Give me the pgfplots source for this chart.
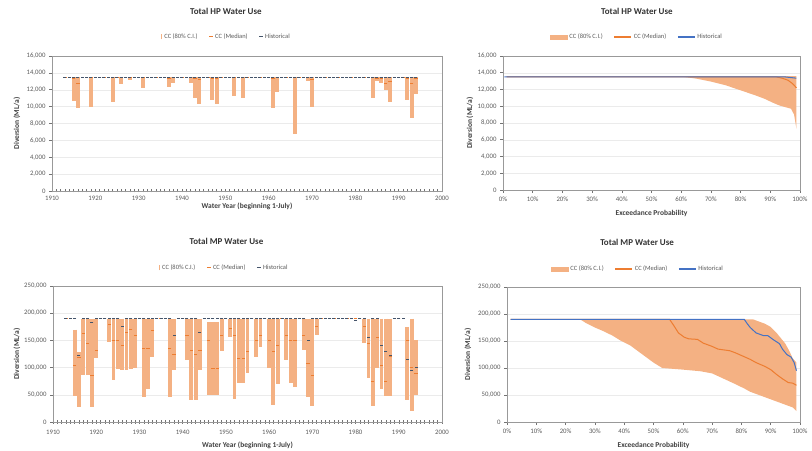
\documentclass[border=0pt]{standalone}
\usepackage{fontspec}
\setmainfont{Carlito}
\usepackage{pgfplots}
\pgfplotsset{compat=1.18}
\usepackage{pgfplotstable}
\definecolor{cBand}{HTML}{F4B183}
\definecolor{cMed}{HTML}{ED7D31}
\definecolor{cHist}{HTML}{4472C4}
\definecolor{cHistDk}{HTML}{44546A}
\definecolor{cTxt}{HTML}{595959}

\pgfplotstableread{
year hi lo med hist
1913 13500 13500 13500 13500
1914 13500 13500 13500 13500
1915 13500 10700 13300 13500
1916 13500 9800 12700 13500
1917 13500 13500 13500 13500
1918 13500 13500 13500 13500
1919 13500 9900 13500 13500
1920 13500 13500 13500 13500
1921 13500 13500 13500 13500
1922 13500 13500 13500 13500
1923 13500 13500 13500 13500
1924 13500 10500 13500 13500
1925 13500 13500 13500 13500
1926 13500 12700 13500 13500
1927 13500 13500 13500 13500
1928 13500 13200 13500 13500
1929 13500 13500 13500 13500
1930 13500 13500 13500 13500
1931 13500 12200 13500 13500
1932 13500 13500 13500 13500
1933 13500 13500 13500 13500
1934 13500 13500 13500 13500
1935 13500 13500 13500 13500
1936 13500 13500 13500 13500
1937 13500 12300 13400 13500
1938 13500 12800 13500 13500
1939 13500 13500 13500 13500
1940 13500 13500 13500 13500
1941 13500 13500 13500 13500
1942 13500 12800 13500 13500
1943 13500 11000 13400 13500
1944 13500 10300 13200 13500
1945 13500 13500 13500 13500
1946 13500 13500 13500 13500
1947 13500 10800 13400 13500
1948 13500 10300 13300 13500
1949 13500 13500 13500 13500
1950 13500 13500 13500 13500
1951 13500 13500 13500 13500
1952 13500 11300 13500 13500
1953 13500 13500 13500 13500
1954 13500 11000 13500 13500
1955 13500 13500 13500 13500
1956 13500 13500 13500 13500
1957 13500 13500 13500 13500
1958 13500 13500 13500 13500
1959 13500 13500 13500 13500
1960 13500 13500 13500 13500
1961 13500 9800 13300 13500
1962 13500 11700 13500 13500
1963 13500 13500 13500 13500
1964 13500 13500 13500 13500
1965 13500 13500 13500 13500
1966 13500 6800 13500 13500
1967 13500 13500 13500 13500
1968 13500 13500 13500 13500
1969 13500 13000 13500 13500
1970 13500 9900 13200 13500
1971 13500 13500 13500 13500
1972 13500 13500 13500 13500
1973 13500 13500 13500 13500
1974 13500 13500 13500 13500
1975 13500 13500 13500 13500
1976 13500 13500 13500 13500
1977 13500 13500 13500 13500
1978 13500 13500 13500 13500
1979 13500 13500 13500 13500
1980 13500 13500 13500 13500
1981 13500 13500 13500 13500
1982 13500 13500 13500 13500
1983 13500 13500 13500 13500
1984 13500 11000 13500 13500
1985 13500 13000 13400 13500
1986 13500 12800 13300 13500
1987 13500 12000 12700 13500
1988 13500 10500 13000 13500
1989 13500 13500 13500 13500
1990 13500 13500 13500 13500
1991 13500 13500 13500 13500
1992 13500 10800 13300 13500
1993 13500 8700 12800 13500
1994 13500 11500 13400 13500
}\hpdata

\pgfplotstableread{
year hi lo med hist
1913 190000 190000 190000 190000
1914 190000 190000 190000 190000
1915 170000 47000 105000 190000
1916 128000 28000 118000 122000
1917 190000 86000 163000 190000
1918 190000 86000 145000 190000
1919 190000 28000 86000 184000
1920 190000 117000 132000 190000
1921 190000 190000 190000 190000
1922 190000 190000 190000 190000
1923 190000 147000 180000 190000
1924 190000 77000 150000 190000
1925 190000 98000 150000 190000
1926 190000 95000 140000 175000
1927 190000 95000 165000 190000
1928 190000 98000 170000 190000
1929 190000 100000 160000 190000
1930 190000 190000 190000 190000
1931 190000 46000 135000 190000
1932 190000 60000 135000 190000
1933 190000 120000 169000 190000
1934 190000 190000 190000 190000
1935 190000 190000 190000 190000
1936 190000 190000 190000 190000
1937 190000 46000 135000 190000
1938 190000 95000 125000 160000
1939 190000 190000 190000 190000
1940 190000 190000 190000 190000
1941 190000 114000 160000 190000
1942 190000 40000 132000 190000
1943 190000 40000 125000 190000
1944 190000 95000 132000 165000
1945 190000 190000 190000 190000
1946 184000 50000 150000 190000
1947 184000 50000 98000 190000
1948 184000 50000 98000 190000
1949 190000 130000 160000 190000
1950 190000 190000 190000 190000
1951 190000 157000 172000 190000
1952 190000 43000 160000 190000
1953 190000 71000 117000 190000
1954 190000 71000 117000 190000
1955 190000 90000 130000 190000
1956 190000 190000 190000 190000
1957 190000 120000 150000 190000
1958 190000 138000 160000 190000
1959 190000 190000 190000 190000
1960 190000 100000 150000 190000
1961 190000 31000 129000 190000
1962 190000 70000 140000 190000
1963 190000 190000 190000 190000
1964 190000 114000 160000 190000
1965 190000 71000 150000 190000
1966 190000 65000 150000 190000
1967 190000 190000 190000 190000
1968 190000 132000 160000 190000
1969 190000 46000 108000 150000
1970 190000 30000 85000 190000
1971 190000 160000 175000 190000
1972 190000 190000 190000 190000
1973 190000 190000 190000 190000
1974 190000 190000 190000 190000
1975 190000 190000 190000 190000
1976 190000 190000 190000 190000
1977 190000 190000 190000 190000
1978 190000 190000 190000 190000
1979 190000 190000 190000 190000
1980 190000 190000 190000 186000
1981 190000 190000 190000 190000
1982 190000 145000 175000 190000
1983 190000 80000 145000 155000
1984 190000 30000 75000 190000
1985 190000 100000 155000 190000
1986 190000 60000 105000 140000
1987 190000 48000 75000 130000
1988 190000 48000 120000 122000
1989 190000 190000 190000 190000
1990 190000 190000 190000 190000
1991 190000 190000 190000 190000
1992 175000 40000 150000 115000
1993 190000 20000 100000 95000
1994 150000 50000 90000 100000
}\mpdata

\pgfplotsset{
  base/.style={
    scale only axis,
    anchor=south west,
    axis line style={black!40, line width=0.6bp},
    tick style={black!55, line width=0.5bp},
    major tick length=3bp,
    minor tick length=3bp,
    tick pos=left,
    tick label style={font=\fontsize{6.8}{7}\selectfont, text=cTxt},
    label style={font=\fontsize{7.5}{8}\selectfont\bfseries, text=black!75},
    title style={font=\fontsize{9}{10}\selectfont\bfseries, text=black!80, anchor=center},
    /pgf/number format/assume math mode=true,
    /pgf/number format/fixed,
    /pgf/number format/1000 sep={,},
    scaled y ticks=false,
    ymajorgrids, grid style={black!8, line width=0.4bp},
    legend style={draw=none, fill=none, font=\fontsize{6.5}{7}\selectfont, text=cTxt,
      legend columns=-1, anchor=center,
      /tikz/every even column/.append style={column sep=9bp}},
    legend cell align=left,
    xlabel style={at={(axis description cs:0.5,0)}, anchor=center},
  },
  leftstyle/.style={
    xmin=1910, xmax=2000, xtick distance=10, minor x tick num=9,
    xtick align=center, ytick align=outside,
    xticklabel style={/pgf/number format/1000 sep={}},
    xlabel={Water Year (beginning 1-July)},
    ylabel={Diversion (ML/a)},
  },
  rightstyle/.style={
    xmin=0, xmax=100, xtick={0,10,20,30,40,50,60,70,80,90,100},
    xticklabels={0\%,10\%,20\%,30\%,40\%,50\%,60\%,70\%,80\%,90\%,100\%},
    tick align=outside,
    xlabel={Exceedance Probability},
    ylabel={Diversion (ML/a)},
  },
  cibar/.style={forget plot, draw=none, mark=none,
    error bars/.cd, y dir=minus, y explicit, error mark=none,
    error bar style={line width=3.9bp, cBand}},
  medmark/.style={forget plot, only marks, mark=-, mark size=1.6bp,
    mark options={cMed, line width=0.7bp}},
  histmark/.style={forget plot, only marks, mark=-, mark size=1.5bp,
    mark options={cHistDk, line width=0.7bp}},
}

\newcommand{\leftlegend}{%
  \addlegendimage{legend image code/.code={\draw[cBand,line width=1.4bp] (0bp,-2.5bp)--(0bp,2.5bp);}}
  \addlegendentry{CC (80\% C.I.)}
  \addlegendimage{legend image code/.code={\draw[cMed,line width=1bp] (-1.8bp,0)--(1.8bp,0);}}
  \addlegendentry{CC (Median)}
  \addlegendimage{legend image code/.code={\draw[cHistDk,line width=1bp] (-1.8bp,0)--(1.8bp,0);}}
  \addlegendentry{Historical}
}
\newcommand{\rightlegend}{%
  \addlegendimage{legend image code/.code={\fill[cBand] (0bp,-2bp) rectangle (17bp,2bp);}}
  \addlegendentry{CC (80\% C.I.)}
  \addlegendimage{legend image code/.code={\draw[cMed,line width=1.1bp] (0bp,0)--(17bp,0);}}
  \addlegendentry{CC (Median)}
  \addlegendimage{legend image code/.code={\draw[cHist,line width=1.1bp] (0bp,0)--(17bp,0);}}
  \addlegendentry{Historical}
}

\begin{document}
\begin{tikzpicture}
\path[use as bounding box] (0bp,0bp) rectangle (812bp,451bp);

% ---------- Top left ----------
\begin{axis}[base, leftstyle, at={(52bp,260bp)}, width=390bp, height=135bp,
  ymin=0, ymax=16000, ytick distance=2000,
  title={Total HP Water Use}, title style={at={(0.446,1)}, yshift=39bp},
  legend style={at={(0.447,1)}, yshift=19bp},
  xlabel style={yshift=-15bp},
  ylabel style={at={(axis description cs:-0.0897,0.5)}, anchor=center}]
\leftlegend
\addplot[cibar] table[x=year, y=hi, y error minus expr=\thisrow{hi}-\thisrow{lo}] {\hpdata};
\addplot[medmark] table[x=year, y=med] {\hpdata};
\addplot[histmark] table[x=year, y=hist] {\hpdata};
\end{axis}

% ---------- Top right ----------
\begin{axis}[base, rightstyle, at={(503bp,261bp)}, width=297bp, height=134bp,
  ymin=0, ymax=16000, ytick distance=2000,
  title={Total HP Water Use}, title style={at={(0.451,1)}, yshift=39bp},
  legend style={at={(0.451,1)}, yshift=19bp},
  xlabel style={yshift=-23bp},
  ylabel style={at={(axis description cs:-0.111,0.5)}, anchor=center}]
\rightlegend
\addplot[fill=cBand, draw=none, forget plot] coordinates {
 (1.2,13600) (98.8,13600)
 (98.8,7300) (98,9000) (97,9700) (95,9900) (93,10100) (91,10400) (88,10900)
 (85,11300) (80,11900) (75,12500) (70,12950) (65,13300) (61,13500) (1.2,13500)};
\addplot[cMed, line width=1bp, forget plot] coordinates {
 (1.2,13500) (92,13500) (94,13350) (96,13100) (97.5,12700) (98.8,12200)};
\addplot[cHist, line width=1bp, forget plot] coordinates {
 (0.5,13500) (95,13500) (98.8,13350)};
\end{axis}

% ---------- Bottom left ----------
\begin{axis}[base, leftstyle, at={(53bp,29bp)}, width=389bp, height=136bp,
  ymin=0, ymax=250000, ytick distance=50000,
  title={Total MP Water Use}, title style={at={(0.446,1)}, yshift=39bp},
  legend style={at={(0.44,1)}, yshift=18bp},
  xticklabel style={yshift=-3bp},
  xlabel style={yshift=-23bp},
  ylabel style={at={(axis description cs:-0.0925,0.5)}, anchor=center}]
\leftlegend
\addplot[cibar] table[x=year, y=hi, y error minus expr=\thisrow{hi}-\thisrow{lo}] {\mpdata};
\addplot[medmark] table[x=year, y=med] {\mpdata};
\addplot[histmark] table[x=year, y=hist] {\mpdata};
\end{axis}

% ---------- Bottom right ----------
\begin{axis}[base, rightstyle, at={(507bp,29bp)}, width=293bp, height=135bp,
  ymin=0, ymax=250000, ytick distance=50000,
  title={Total MP Water Use}, title style={at={(0.444,1)}, yshift=39bp},
  legend style={at={(0.447,1)}, yshift=18bp},
  xlabel style={yshift=-23bp},
  ylabel style={at={(axis description cs:-0.133,0.5)}, anchor=center}]
\rightlegend
\addplot[fill=cBand, draw=none, forget plot] coordinates {
 (1.2,190000) (84,190000) (86,186000) (88,182000) (90,176000) (92,165000)
 (93.5,155000) (95,145000) (96.5,130000) (97.5,118000) (98.8,110000)
 (98.8,20000) (97.5,27000) (95.5,31000) (93,36000) (90,42000) (86,50000)
 (83,56000) (81,62000) (78,70000) (74,80000) (70,90000) (66,94000) (60,97000)
 (53,100000) (50,110000) (48,118000) (45,130000) (42,142000) (39,150000)
 (36,160000) (33,168000) (30,175000) (27,183000) (25,190000) (1.2,190000)};
\addplot[cMed, line width=1bp, forget plot] coordinates {
 (1.2,190000) (55.5,190000) (57,178000) (58.5,165000) (60.5,157000) (62,154000)
 (65,153000) (67,146000) (70,140000) (72,135000) (76,132000) (78,128000)
 (80.5,122000) (83,116000) (85,110000) (88,103000) (90,97000) (92,88000)
 (94,80000) (96,73000) (97.5,72000) (98.8,68000)};
\addplot[cHist, line width=1bp, forget plot] coordinates {
 (1.2,190000) (81,190000) (82,182000) (83,175000) (85,165000) (87.5,160000)
 (89,160000) (91,152000) (93,145000) (94,135000) (95.5,125000) (97,120000)
 (98,110000) (98.8,95000)};
\end{axis}
\end{tikzpicture}
\end{document}
